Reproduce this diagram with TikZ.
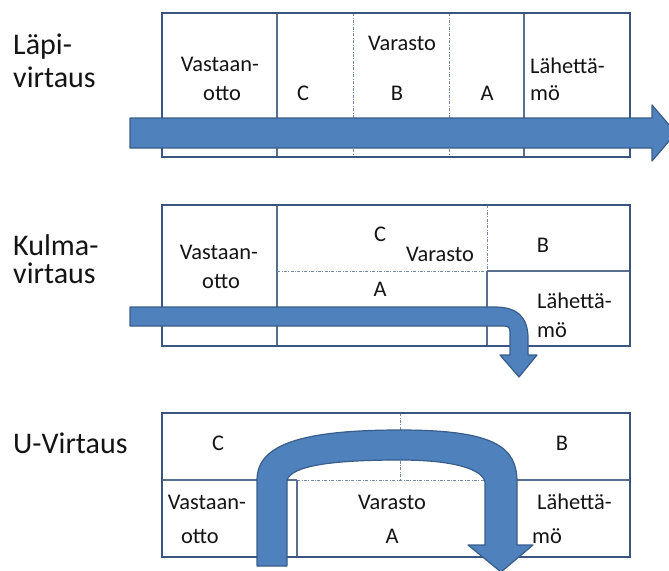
\documentclass[tikz,border=0pt]{standalone}
\usepackage{fontspec}
\setmainfont{Carlito}
\definecolor{framec}{RGB}{58,86,128}
\definecolor{wallc}{RGB}{90,110,142}
\definecolor{splitc}{RGB}{120,138,166}
\definecolor{flowfill}{RGB}{79,129,189}
\definecolor{flowedge}{RGB}{56,93,138}
\begin{document}
\begin{tikzpicture}[x=1pt,y=-1pt,
  frame/.style={draw=framec,line width=2.4pt},
  wall/.style={draw=wallc,line width=1.1pt},
  split/.style={draw=splitc,line width=0.8pt,dash pattern=on 3pt off 1.5pt on 0.8pt off 1.5pt},
  flow/.style={fill=flowfill,draw=flowedge,line width=1.2pt,line join=round},
  zone/.style={font=\fontsize{22.4}{29}\selectfont,inner sep=0pt,text=black!92},
  zonel/.style={zone,anchor=west},
  kind/.style={font=\fontsize{30}{31}\selectfont,inner sep=0pt,anchor=west,text=black!92}]
\useasboundingbox (0,0) rectangle (669,570);

% ---------- layout labels ----------
\node[kind] (k1a) at (13,47) {Läpi-};
\node[kind] (k1b) at (13,77) {virtaus};
\node[kind] (k2a) at (13,245) {Kulma-};
\node[kind] (k2b) at (13,273) {virtaus};
\node[kind] (k3)  at (13,443) {U-Virtaus};

% ---------- through flow ----------
\draw[wall] (277,13) -- (277,157);
\draw[split] (353,13) -- (353,157);
\draw[split] (449,13) -- (449,157);
\draw[wall] (524,13) -- (524,157);
\draw[frame] (162,13) rectangle (630,157);
\node[zone] (p1rx) at (220,64) {Vastaan-};
\node[zone] (p1ry) at (222,93) {otto};
\node[zone] (p1c) at (303,93) {C};
\node[zone] (p1st) at (402,43) {Varasto};
\node[zone] (p1b) at (397,93) {B};
\node[zone] (p1a) at (487,93) {A};
\node[zonel] (p1sx) at (530,66) {Lähettä-};
\node[zonel] (p1sy) at (530,93) {mö};
\draw[flow] (130,118) -- (652,118) -- (652,105) -- (676,133) -- (652,161)
  -- (652,148) -- (130,148) -- cycle;

% ---------- corner flow ----------
\draw[wall] (277,205) -- (277,346);
\draw[split] (277,271) -- (487,271);
\draw[split] (487,205) -- (487,271);
\draw[wall] (487,271) -- (487,346);
\draw[wall] (487,271) -- (630,271);
\draw[frame] (162,205) rectangle (630,346);
\node[zone] (p2rx) at (219,252) {Vastaan-};
\node[zone] (p2ry) at (221,281) {otto};
\node[zone] (p2c) at (380,234) {C};
\node[zone] (p2st) at (440,254) {Varasto};
\node[zone] (p2b) at (543,245) {B};
\node[zone] (p2a) at (380,289) {A};
\node[zonel] (p2sx) at (537,301) {Lähettä-};
\node[zonel] (p2sy) at (537,330) {mö};
\draw[flow] (130,307) -- (495,307) .. controls (518,307) and (528,318) .. (528,338)
  -- (528,355) -- (537,355) -- (519,377) -- (500,355) -- (510,355) -- (510,332)
  .. controls (510,327) and (508,326) .. (503,326) -- (130,326) -- cycle;

% ---------- U flow ----------
\draw[wall] (162,480) -- (297,480);
\draw[split] (297,480) -- (487,480);
\draw[wall] (487,480) -- (630,480);
\draw[wall] (297,480) -- (297,557);
\draw[wall] (500,480) -- (500,557);
\draw[split] (400,413) -- (400,480);
\draw[frame] (162,413) rectangle (630,557);
\node[zone] (p3c) at (218,443) {C};
\node[zone] (p3b) at (562,443) {B};
\node[zone] (p3rx) at (207,502) {Vastaan-};
\node[zone] (p3ry) at (200,536) {otto};
\node[zone] (p3st) at (392,502) {Varasto};
\node[zone] (p3a) at (392,536) {A};
\node[zonel] (p3sx) at (537,502) {Lähettä-};
\node[zonel] (p3sy) at (532,536) {mö};
\draw[flow] (257,566) -- (257,480)
  .. controls (257,445) and (300,430) .. (400,430)
  .. controls (495,430) and (517,447) .. (517,482)
  -- (517,545) -- (533,545) -- (501,572) -- (468,545) -- (485,545) -- (485,482)
  .. controls (482,468) and (450,460) .. (400,460)
  .. controls (330,460) and (292,466) .. (287,480)
  -- (287,566) -- cycle;
\end{tikzpicture}
\end{document}
